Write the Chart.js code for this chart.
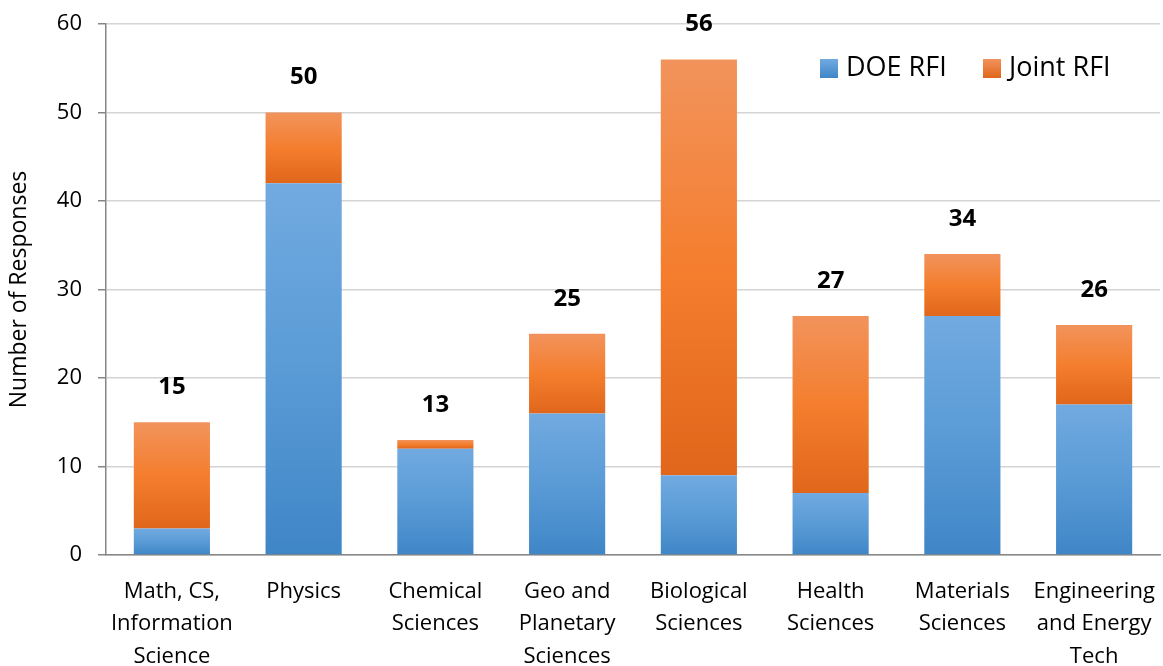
<!DOCTYPE html>
<html>
<head>
<meta charset="utf-8">
<script src="https://cdn.jsdelivr.net/npm/chart.js@4"></script>
<style>
    html, body { margin: 0; padding: 0; background: #ffffff; }
    #wrap { width: 1163px; height: 666px; position: relative; }
</style>
</head>
<body>
<div id="wrap"><canvas id="responsesChart"></canvas></div>
<script>
// Datos del gráfico
const categories = [
    ['Math, CS,', 'Information', 'Science'],
    ['Physics'],
    ['Chemical', 'Sciences'],
    ['Geo and', 'Planetary', 'Sciences'],
    ['Biological', 'Sciences'],
    ['Health', 'Sciences'],
    ['Materials', 'Sciences'],
    ['Engineering', 'and Energy', 'Tech']
];
const doeRfi = [3, 42, 12, 16, 9, 7, 27, 17];
const jointRfi = [12, 8, 1, 9, 47, 20, 7, 9];
const yTicks = [0, 10, 20, 30, 40, 50, 60];

const FONT = '"Open Sans", "DejaVu Sans", sans-serif';

// Colores con degradado (arriba claro, abajo oscuro)
const blueStops = ['#71aae0', '#5a9bd6', '#3f86c7'];
const orangeStops = ['#f2935c', '#f47e2e', '#e0661b'];

function segmentGradient(context, stops) {
    const chart = context.chart;
    const y = chart.scales.y;
    if (!y || !chart.chartArea || context.dataIndex === undefined) return stops[1];
    const i = context.dataIndex;
    const start = context.datasetIndex === 0 ? 0 : doeRfi[i];
    const end = start + (context.datasetIndex === 0 ? doeRfi[i] : jointRfi[i]);
    const top = y.getPixelForValue(end);
    const bottom = y.getPixelForValue(start);
    if (!isFinite(top) || !isFinite(bottom) || top === bottom) return stops[1];
    const g = chart.ctx.createLinearGradient(0, top, 0, bottom);
    g.addColorStop(0, stops[0]);
    g.addColorStop(0.5, stops[1]);
    g.addColorStop(1, stops[2]);
    return g;
}

// Totales encima de cada barra
const totalsPlugin = {
    id: 'totals',
    afterDatasetsDraw(chart) {
        const ctx = chart.ctx;
        const meta = chart.getDatasetMeta(1);
        ctx.save();
        ctx.font = 'bold 24px ' + FONT;
        ctx.fillStyle = '#000000';
        ctx.textAlign = 'center';
        ctx.textBaseline = 'middle';
        meta.data.forEach((bar, i) => {
            const total = doeRfi[i] + jointRfi[i];
            ctx.fillText(String(total), bar.x, bar.y - 35);
        });
        ctx.restore();
    }
};

// Leyenda dibujada dentro del área
const legendPlugin = {
    id: 'insideLegend',
    afterDraw(chart) {
        const ctx = chart.ctx;
        const items = [
            { label: chart.data.datasets[0].label, stops: blueStops, x: 820 },
            { label: chart.data.datasets[1].label, stops: orangeStops, x: 983 }
        ];
        ctx.save();
        ctx.font = '27px ' + FONT;
        ctx.textBaseline = 'middle';
        ctx.textAlign = 'left';
        items.forEach(item => {
            const g = ctx.createLinearGradient(0, 59, 0, 78);
            g.addColorStop(0, item.stops[0]);
            g.addColorStop(1, item.stops[2]);
            ctx.fillStyle = g;
            ctx.fillRect(item.x, 59, 18, 19);
            ctx.fillStyle = '#000000';
            ctx.fillText(item.label, item.x + 26, 68);
        });
        ctx.restore();
    }
};

const chart = new Chart(document.getElementById('responsesChart'), {
    type: 'bar',
    data: {
        labels: categories,
        datasets: [
            {
                label: 'DOE RFI',
                data: doeRfi,
                backgroundColor: ctx => segmentGradient(ctx, blueStops),
                borderWidth: 0,
                barPercentage: 0.578,
                categoryPercentage: 1.0
            },
            {
                label: 'Joint RFI',
                data: jointRfi,
                backgroundColor: ctx => segmentGradient(ctx, orangeStops),
                borderWidth: 0,
                barPercentage: 0.578,
                categoryPercentage: 1.0
            }
        ]
    },
    options: {
        responsive: true,
        maintainAspectRatio: false,
        animation: false,
        layout: { padding: { top: 24, right: 3, left: 0, bottom: 0 } },
        plugins: {
            legend: { display: false },
            tooltip: { enabled: false }
        },
        scales: {
            x: {
                stacked: true,
                grid: { display: false, drawTicks: false },
                border: { color: '#868686', width: 1.5 },
                ticks: {
                    color: '#000000',
                    font: { family: FONT, size: 22, lineHeight: 1.48 },
                    padding: 20,
                    maxRotation: 0,
                    autoSkip: false
                },
                afterFit(scale) {
                    scale.height = 111;
                    scale.paddingLeft = 0;
                    scale.paddingRight = 0;
                }
            },
            y: {
                stacked: true,
                min: 0,
                max: 60,
                afterBuildTicks(scale) { scale.ticks = yTicks.map(v => ({ value: v })); },
                grid: { color: '#d4d4d4', lineWidth: 1.5, tickLength: 8, tickColor: '#868686' },
                border: { color: '#868686', width: 1.5 },
                ticks: {
                    color: '#000000',
                    font: { family: FONT, size: 22 },
                    padding: 16
                },
                title: {
                    display: true,
                    text: 'Number of Responses',
                    color: '#000000',
                    font: { family: FONT, size: 23 },
                    padding: { top: 6, bottom: 0 }
                },
                afterFit(scale) {
                    scale.width = 106;
                    scale.paddingTop = 0;
                    scale.paddingBottom = 0;
                }
            }
        }
    },
    plugins: [totalsPlugin, legendPlugin]
});
</script>
</body>
</html>
